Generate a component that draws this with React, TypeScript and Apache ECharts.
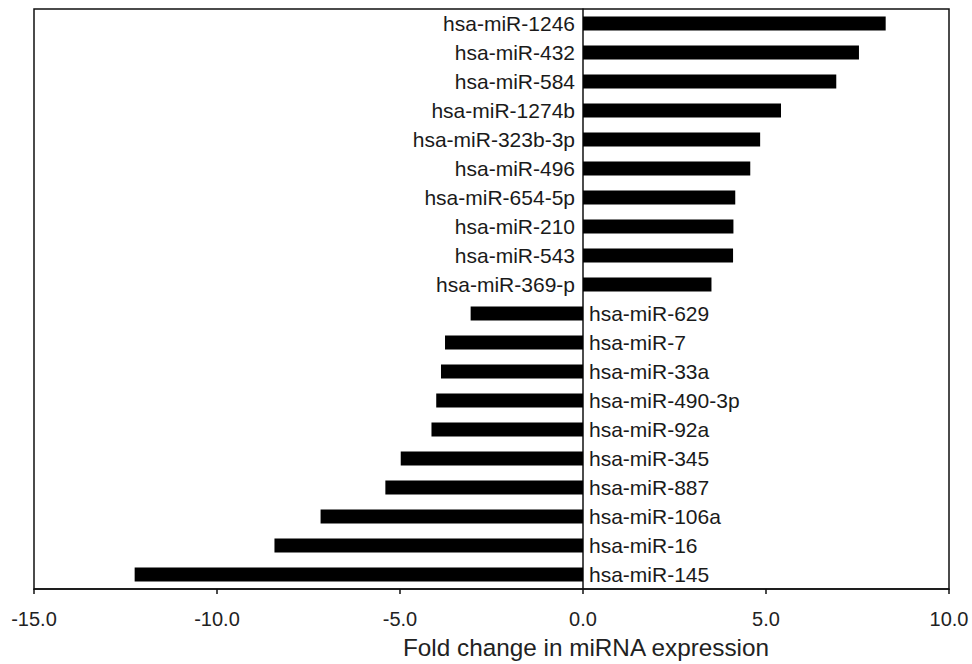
import React, { useEffect, useRef } from "react";
import * as echarts from "echarts";

const categories = [
  "hsa-miR-1246", "hsa-miR-432", "hsa-miR-584", "hsa-miR-1274b", "hsa-miR-323b-3p",
  "hsa-miR-496", "hsa-miR-654-5p", "hsa-miR-210", "hsa-miR-543", "hsa-miR-369-p",
  "hsa-miR-629", "hsa-miR-7", "hsa-miR-33a", "hsa-miR-490-3p", "hsa-miR-92a",
  "hsa-miR-345", "hsa-miR-887", "hsa-miR-106a", "hsa-miR-16", "hsa-miR-145",
];
const foldChange = [
  8.27, 7.54, 6.92, 5.41, 4.84, 4.57, 4.16, 4.11, 4.1, 3.51,
  -3.07, -3.77, -3.88, -4.01, -4.14, -4.98, -5.4, -7.17, -8.43, -12.25,
];
const xTicks = { min: -15, max: 10, interval: 5 };
const xAxisTitle = "Fold change in miRNA expression";

const FONT = "'Liberation Sans', Arial, Helvetica, sans-serif";

export default function App() {
  const ref = useRef<HTMLDivElement>(null);
  useEffect(() => {
    if (!ref.current) return;
    const chart = echarts.init(ref.current, null, { renderer: "svg" });
    chart.setOption({
      animation: false,
      backgroundColor: "#fff",
      grid: {
        left: 34, right: 23, top: 9, bottom: 75,
        show: true, borderColor: "#111", borderWidth: 1.5, backgroundColor: "transparent",
      },
      xAxis: {
        type: "value",
        min: xTicks.min, max: xTicks.max, interval: xTicks.interval,
        axisLine: { show: true, onZero: false, lineStyle: { color: "#111", width: 1.5 } },
        axisTick: { show: true, length: 5, lineStyle: { color: "#111", width: 1.5 } },
        splitLine: { show: false },
        axisLabel: {
          color: "#222", fontSize: 20, fontFamily: FONT, margin: 20,
          formatter: (v: number) => v.toFixed(1),
        },
      },
      yAxis: {
        type: "category",
        data: categories,
        inverse: true,
        axisLine: { show: true, onZero: true, lineStyle: { color: "#111", width: 1.5 } },
        axisTick: { show: false },
        axisLabel: { show: false },
        splitLine: { show: false },
      },
      graphic: [
        {
          type: "text",
          x: 586, y: 647,
          style: {
            text: xAxisTitle, fill: "#222", font: `24.3px ${FONT}`,
            textAlign: "center", textVerticalAlign: "middle",
          },
        },
      ],
      series: [
        {
          type: "bar",
          barWidth: 14,
          itemStyle: { color: "#000" },
          data: foldChange.map((v) => ({
            value: v,
            label: { position: v >= 0 ? "left" : "right", distance: v >= 0 ? 8 : 6 },
          })),
          label: {
            show: true,
            color: "#1a1a1a",
            fontSize: 21,
            fontFamily: FONT,
            formatter: (p: any) => categories[p.dataIndex],
          },
        },
      ],
    });
    return () => chart.dispose();
  }, []);
  return (
    <div
      ref={ref}
      style={{ position: "fixed", left: 0, top: 0, width: 972, height: 664, background: "#fff" }}
    />
  );
}
